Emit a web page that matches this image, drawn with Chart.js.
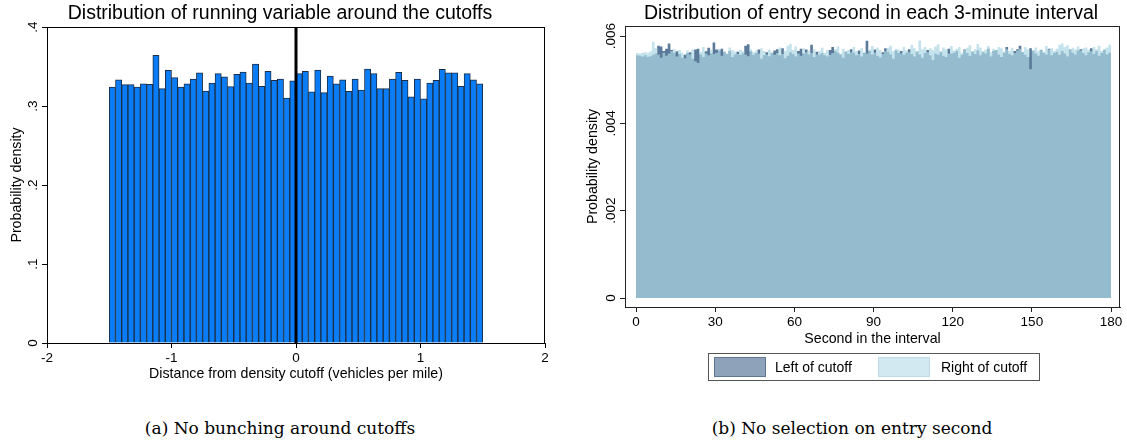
<!DOCTYPE html>
<html>
<head>
<meta charset="utf-8">
<script src="https://cdn.jsdelivr.net/npm/chart.js@4.4.1/dist/chart.umd.min.js"></script>
<style>
  body { margin: 0; background: #fff; width: 1127px; height: 446px; position: relative; overflow: hidden;
         font-family: "Liberation Sans", Arial, sans-serif; color: #000; }
  canvas { position: absolute; top: 0; }
  #runChart { left: 0; }
  #secChart { left: 560px; }
  .title { position: absolute; top: 1px; font-size: 19.5px; transform: translateX(-50%); white-space: nowrap; }
  .caption { position: absolute; top: 418px; font-family: "DejaVu Serif", serif; font-size: 17px;
             transform: translateX(-50%); white-space: nowrap; }
  .legend { position: absolute; left: 708px; top: 353px; width: 332px; height: 28px; border: 1px solid #555;
            box-sizing: border-box; font-size: 14px; }
  .key { position: absolute; top: 3px; width: 52px; height: 20px; box-sizing: border-box; border: 1px solid; }
  .ltxt { position: absolute; top: 5px; white-space: nowrap; }
</style>
</head>
<body>
<canvas id="runChart" width="560" height="400"></canvas>
<canvas id="secChart" width="567" height="400"></canvas>

<div class="title" style="left:280px">Distribution of running variable around the cutoffs</div>
<div class="title" style="left:871px">Distribution of entry second in each 3-minute interval</div>

<div class="legend">
  <div class="key" style="left:5px;background:#8ea3ba;border-color:#5f7792"></div>
  <div class="ltxt" style="left:66px">Left of cutoff</div>
  <div class="key" style="left:169px;background:#d2e9f1;border-color:#bfdce7"></div>
  <div class="ltxt" style="left:232px">Right of cutoff</div>
</div>

<div class="caption" style="left:280px">(a) No bunching around cutoffs</div>
<div class="caption" style="left:852px">(b) No selection on entry second</div>

<script>
// ---- panel (a): running variable, 60 bins of width .05 from -1.5 to 1.5
const runBinStart = -1.5
const runBinWidth = 0.05
const runDensity = [
  0.324, 0.333, 0.327, 0.327, 0.324, 0.328, 0.3275, 0.364, 0.322, 0.345,
  0.336, 0.324, 0.328, 0.334, 0.342, 0.319, 0.329, 0.341, 0.337, 0.3245,
  0.340, 0.343, 0.329, 0.353, 0.325, 0.344, 0.3325, 0.334, 0.310, 0.332,
  0.341, 0.344, 0.318, 0.3455, 0.317, 0.338, 0.328, 0.333, 0.3186, 0.334,
  0.320, 0.3468, 0.341, 0.322, 0.322, 0.334, 0.3426, 0.3325, 0.3115, 0.334,
  0.309, 0.329, 0.3325, 0.3464, 0.342, 0.342, 0.325, 0.341, 0.333, 0.328
]
const runXTicks = [-2, -1, 0, 1, 2]
const runYTicks = [0, 0.1, 0.2, 0.3, 0.4]

// ---- panel (b): entry second, one bin per second 0..179
const leftCutoff = [
  .00556, .00555, .00553, .00556, .00552, .00554, .00557, .00560, .00578, .00576,
  .00566, .00571, .00583, .00568, .00562, .00565, .00559, .00550, .00557, .00561,
  .00563, .00548, .00569, .00571, .00558, .00552, .00565, .00573, .00560, .00585,
  .00569, .00567, .00571, .00563, .00559, .00566, .00552, .00558, .00564, .00557,
  .00560, .00578, .00581, .00565, .00557, .00561, .00569, .00548, .00556, .00563,
  .00554, .00561, .00567, .00570, .00556, .00572, .00549, .00555, .00563, .00559,
  .00553, .00566, .00571, .00560, .00569, .00558, .00580, .00552, .00564, .00557,
  .00561, .00556, .00553, .00568, .00575, .00566, .00562, .00557, .00550, .00564,
  .00559, .00570, .00562, .00556, .00567, .00553, .00561, .00589, .00566, .00558,
  .00569, .00555, .00551, .00563, .00572, .00564, .00558, .00548, .00567, .00561,
  .00566, .00557, .00562, .00570, .00559, .00553, .00564, .00558, .00550, .00561,
  .00568, .00556, .00545, .00560, .00557, .00563, .00555, .00552, .00571, .00560,
  .00562, .00566, .00550, .00557, .00569, .00561, .00555, .00564, .00559, .00567,
  .00556, .00563, .00560, .00571, .00553, .00566, .00568, .00558, .00552, .00562,
  .00575, .00559, .00556, .00566, .00570, .00578, .00563, .00557, .00552, .00572,
  .00566, .00560, .00555, .00568, .00562, .00558, .00571, .00556, .00561, .00564,
  .00557, .00566, .00560, .00553, .00569, .00562, .00558, .00567, .00570, .00561,
  .00556, .00563, .00572, .00559, .00566, .00555, .00561, .00568, .00558, .00562
]
const rightCutoff = [
  .00561, .00560, .00562, .00563, .00561, .00565, .00587, .00572, .00558, .00550,
  .00562, .00555, .00560, .00566, .00570, .00553, .00568, .00562, .00549, .00567,
  .00558, .00570, .00542, .00538, .00564, .00575, .00560, .00556, .00569, .00559,
  .00562, .00571, .00555, .00566, .00560, .00574, .00568, .00564, .00559, .00568,
  .00565, .00558, .00554, .00570, .00563, .00567, .00560, .00572, .00566, .00558,
  .00569, .00563, .00557, .00561, .00574, .00559, .00566, .00578, .00582, .00568,
  .00576, .00560, .00555, .00572, .00563, .00567, .00561, .00570, .00558, .00566,
  .00573, .00562, .00568, .00557, .00561, .00570, .00576, .00560, .00571, .00565,
  .00568, .00563, .00575, .00566, .00559, .00572, .00564, .00560, .00569, .00577,
  .00562, .00574, .00568, .00559, .00565, .00573, .00578, .00566, .00571, .00569,
  .00560, .00575, .00567, .00563, .00580, .00572, .00566, .00590, .00570, .00575,
  .00563, .00572, .00568, .00576, .00581, .00566, .00574, .00569, .00560, .00577,
  .00567, .00571, .00575, .00562, .00568, .00573, .00579, .00565, .00570, .00582,
  .00574, .00566, .00569, .00577, .00563, .00571, .00568, .00575, .00572, .00564,
  .00570, .00566, .00573, .00561, .00567, .00571, .00564, .00575, .00569, .00524,
  .00568, .00574, .00566, .00570, .00563, .00577, .00569, .00572, .00566, .00571,
  .00580, .00583, .00575, .00579, .00568, .00573, .00570, .00576, .00567, .00572,
  .00574, .00569, .00565, .00575, .00570, .00578, .00566, .00571, .00574, .00580
]
const secXTicks = [0, 30, 60, 90, 120, 150, 180]
const secYTicks = [0, 0.002, 0.004, 0.006]

const FONT = '"Liberation Sans", Arial, sans-serif'

// stata style numbers: .1 instead of 0.1
function dotFmt(v) {
  if (v === 0) return '0'
  return String(+v.toFixed(3)).replace(/^(-?)0\./, '$1.')
}

// frame, rotated y labels, axis titles, optional reference line
const axisDecor = {
  id: 'axisDecor',
  afterDatasetsDraw(chart, args, o) {
    const { ctx, chartArea: a, scales } = chart
    ctx.save()
    if (o.vline !== undefined) {
      const x = scales.x.getPixelForValue(o.vline)
      ctx.strokeStyle = '#000'
      ctx.lineWidth = 3
      ctx.beginPath(); ctx.moveTo(x, a.top); ctx.lineTo(x, a.bottom); ctx.stroke()
    }
    ctx.restore()
  },
  afterDraw(chart, args, o) {
    const { ctx, chartArea: a, scales } = chart
    ctx.save()
    ctx.strokeStyle = o.frame
    ctx.lineWidth = 1
    ctx.strokeRect(Math.round(a.left) + 0.5, Math.round(a.top) + 0.5,
      Math.round(a.right - a.left) - 1, Math.round(a.bottom - a.top))
    ctx.fillStyle = '#000'
    ctx.font = '13.5px ' + FONT
    scales.y.ticks.forEach(t => {
      const y = scales.y.getPixelForValue(t.value)
      ctx.save()
      ctx.translate(a.left - 7, y)
      ctx.rotate(-Math.PI / 2)
      ctx.textAlign = 'center'
      ctx.textBaseline = 'bottom'
      ctx.fillText(dotFmt(t.value), 0, 0)
      ctx.restore()
    })
    ctx.font = '14.2px ' + FONT
    // y title
    ctx.save()
    ctx.translate(o.yTitleX, (a.top + a.bottom) / 2)
    ctx.rotate(-Math.PI / 2)
    ctx.textAlign = 'center'
    ctx.textBaseline = 'middle'
    ctx.fillText(o.yTitle, 0, 0)
    ctx.restore()
    // x title
    ctx.textAlign = 'center'
    ctx.textBaseline = 'middle'
    ctx.fillText(o.xTitle, (a.left + a.right) / 2, a.bottom + o.xTitleDy)
    ctx.restore()
  }
}

function xAxis(min, max, ticks, h, color) {
  return {
    type: 'linear', min: min, max: max, offset: false,
    afterBuildTicks: s => { s.ticks = ticks.map(v => ({ value: v })) },
    afterFit: s => { s.height = h },
    grid: { drawOnChartArea: false, drawTicks: true, tickLength: 5, color: color, offset: false },
    border: { display: true, color: color },
    ticks: { color: '#000', padding: 2, maxRotation: 0, autoSkip: false, font: { family: FONT, size: 13.5 },
             callback: v => v }
  }
}
function yAxis(min, max, ticks, w, color) {
  return {
    type: 'linear', min: min, max: max,
    afterBuildTicks: s => { s.ticks = ticks.map(v => ({ value: v })) },
    afterFit: s => { s.width = w },
    grid: { drawOnChartArea: false, drawTicks: true, tickLength: 5, color: color },
    border: { display: true, color: color },
    ticks: { display: false }
  }
}

// panel (a)
let runPoints = runDensity.map((d, i) => ({ x: runBinStart + runBinWidth * (i + 0.5), y: d }))
new Chart(document.getElementById('runChart'), {
  type: 'bar',
  data: {
    datasets: [{
      data: runPoints,
      backgroundColor: '#0a7df6',
      borderColor: '#1a2d45',
      borderWidth: 1,
      barPercentage: 1,
      categoryPercentage: 1
    }]
  },
  plugins: [axisDecor],
  options: {
    responsive: false,
    animation: false,
    layout: { padding: { top: 27, right: 15, left: 0, bottom: 0 } },
    scales: {
      x: xAxis(-2, 2, runXTicks, 57, '#000'),
      y: yAxis(0, 0.4, runYTicks, 47, '#000')
    },
    plugins: {
      legend: { display: false },
      tooltip: { enabled: false },
      axisDecor: { frame: '#000', vline: 0, yTitle: 'Probability density', yTitleX: 17,
                   xTitle: 'Distance from density cutoff (vehicles per mile)', xTitleDy: 31 }
    }
  }
})

// panel (b): histograms as filled step lines so the overlap stays even
function steps(vals) {
  let pts = vals.map((d, i) => ({ x: i, y: d }))
  pts.push({ x: vals.length, y: vals[vals.length - 1] })
  return pts
}
new Chart(document.getElementById('secChart'), {
  type: 'line',
  data: {
    datasets: [
      {
        label: 'Left of cutoff',
        data: steps(leftCutoff),
        stepped: true, fill: 'origin', pointRadius: 0,
        borderWidth: 0, borderColor: 'rgba(0,0,0,0)',
        backgroundColor: '#5b7a99',
        order: 2
      },
      {
        label: 'Right of cutoff',
        data: steps(rightCutoff),
        stepped: true, fill: 'origin', pointRadius: 0,
        borderWidth: 0, borderColor: 'rgba(0,0,0,0)',
        backgroundColor: 'rgba(173,215,228,0.71)',
        order: 1
      }
    ]
  },
  plugins: [axisDecor],
  options: {
    responsive: false,
    animation: false,
    layout: { padding: { top: 26, right: 7, left: 0, bottom: 0 } },
    scales: {
      x: xAxis(-4.2, 183.4, secXTicks, 93, '#222'),
      y: yAxis(-0.000206, 0.00623, secYTicks, 65, '#222')
    },
    plugins: {
      legend: { display: false },
      tooltip: { enabled: false },
      axisDecor: { frame: '#222', yTitle: 'Probability density', yTitleX: 33,
                   xTitle: 'Second in the interval', xTitleDy: 32 }
    }
  }
})
</script>
</body>
</html>
